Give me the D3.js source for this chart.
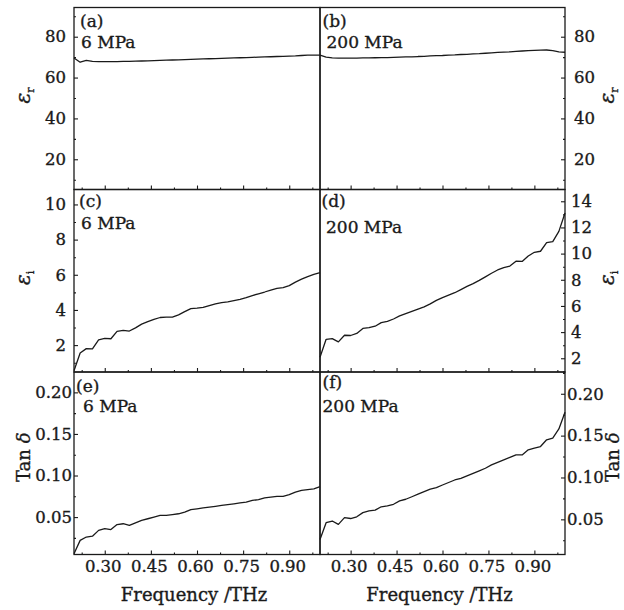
<!DOCTYPE html>
<html>
<head>
<meta charset="utf-8">
<script src="https://cdn.jsdelivr.net/npm/d3@7"></script>
<style>
  body { margin: 0; background: #fff; }
  text { font-family: "DejaVu Serif", serif; fill: #1a1a1a; stroke: #1a1a1a; stroke-width: 0.35px; }
</style>
</head>
<body>
<div id="chart"></div>
<script>
// frequency grid (THz)
const freq = [0.20,0.22,0.24,0.26,0.28,0.30,0.32,0.34,0.36,0.38,0.40,0.42,0.44,0.46,0.48,0.50,0.52,0.54,0.56,0.58,
  0.60,0.62,0.64,0.66,0.68,0.70,0.72,0.74,0.76,0.78,0.80,0.82,0.84,0.86,0.88,0.90,0.92,0.94,0.96,0.98,1.00]

// real permittivity
const epsR6 = [69.6,67.5,68.4,67.9,67.8,67.8,67.8,67.8,67.9,67.9,68.0,68.1,68.2,68.3,68.4,68.5,68.6,68.7,68.8,68.9,
  69.0,69.1,69.2,69.3,69.4,69.5,69.6,69.7,69.8,69.9,70.0,70.1,70.2,70.3,70.4,70.5,70.6,70.8,71.0,71.0,71.0]
const epsR200 = [71.0,70.0,69.6,69.5,69.5,69.5,69.5,69.6,69.6,69.7,69.8,69.8,69.9,70.0,70.1,70.1,70.3,70.4,70.6,70.7,
  70.8,71.0,71.1,71.3,71.4,71.6,71.7,71.9,72.1,72.3,72.5,72.6,72.8,73.0,73.2,73.3,73.4,73.5,73.2,72.6,72.4]

// imaginary permittivity
const epsI6 = [0.54,1.55,1.80,1.78,2.30,2.38,2.36,2.78,2.84,2.80,2.98,3.19,3.33,3.46,3.57,3.59,3.59,3.72,3.90,4.07,
  4.10,4.14,4.25,4.35,4.42,4.46,4.53,4.60,4.70,4.82,4.92,5.02,5.13,5.23,5.27,5.38,5.58,5.75,5.90,6.02,6.12]
const epsI200 = [2.08,3.45,3.50,3.25,3.76,3.74,3.90,4.28,4.34,4.45,4.72,4.82,5.00,5.24,5.42,5.59,5.76,5.93,6.16,6.42,
  6.64,6.82,7.01,7.25,7.49,7.70,7.95,8.22,8.50,8.75,8.93,9.05,9.42,9.40,9.82,10.10,10.18,10.84,10.92,11.70,13.10]

// loss tangent
const tan6 = [0.006,0.022,0.026,0.027,0.034,0.036,0.035,0.041,0.042,0.040,0.043,0.046,0.048,0.050,0.052,0.052,0.053,0.054,0.056,0.059,
  0.060,0.061,0.062,0.063,0.064,0.065,0.066,0.067,0.068,0.070,0.071,0.073,0.074,0.075,0.075,0.077,0.080,0.082,0.083,0.084,0.0865]
const tan200 = [0.026,0.046,0.048,0.044,0.052,0.051,0.053,0.058,0.060,0.061,0.065,0.066,0.068,0.072,0.074,0.077,0.080,0.083,0.086,0.088,
  0.091,0.094,0.097,0.099,0.102,0.105,0.108,0.111,0.115,0.118,0.121,0.124,0.127,0.127,0.133,0.135,0.137,0.145,0.147,0.158,0.178]

const xTicks = [0.30, 0.45, 0.60, 0.75, 0.90]
const xMinor = [0.225, 0.375, 0.525, 0.675, 0.825, 0.975]
const epsRTicks = [20, 40, 60, 80]
const epsRMinor = [10, 30, 50, 70, 90]
const epsI6Ticks = [2, 4, 6, 8, 10]
const epsI6Minor = [1, 3, 5, 7, 9]
const epsI200Ticks = [2, 4, 6, 8, 10, 12, 14]
const epsI200Minor = [1, 3, 5, 7, 9, 11, 13]
const tanTicks = [0.05, 0.10, 0.15, 0.20]
const tanMinor = [0.025, 0.075, 0.125, 0.175, 0.225]

const width = 624
const height = 610
const cols = [[74, 320], [320, 565]]
const rows = [[7.5, 189.5], [189.5, 372], [372, 554.5]]
const ink = "#1a1a1a"

const panels = [
  { col: 0, row: 0, values: epsR6, domain: [5.2, 94.3], ticks: epsRTicks, minor: epsRMinor, fmt: "d", pad: 8, tag: "(a)", note: "6 MPa", label: "r", tagPos: [6, 19], notePos: [7, 40] },
  { col: 1, row: 0, values: epsR200, domain: [5.2, 94.3], ticks: epsRTicks, minor: epsRMinor, fmt: "d", pad: 9, tag: "(b)", note: "200 MPa", label: "r", tagPos: [2.5, 19], notePos: [6.5, 40] },
  { col: 0, row: 1, values: epsI6, domain: [0.47, 10.85], ticks: epsI6Ticks, minor: epsI6Minor, fmt: "d", pad: 8, tag: "(c)", note: "6 MPa", label: "i", tagPos: [5, 17.5], notePos: [7, 39.5] },
  { col: 1, row: 1, values: epsI200, domain: [0.95, 14.9], ticks: epsI200Ticks, minor: epsI200Minor, fmt: "d", pad: 6, tag: "(d)", note: "200 MPa", label: "i", tagPos: [1.5, 17.5], notePos: [6, 43.5] },
  { col: 0, row: 2, values: tan6, domain: [0.005, 0.2245], ticks: tanTicks, minor: tanMinor, fmt: ".2f", pad: 2, tag: "(e)", note: "6 MPa", label: "tan", tagPos: [2, 20], notePos: [9, 40] },
  { col: 1, row: 2, values: tan200, domain: [0.008, 0.226], ticks: tanTicks, minor: tanMinor, fmt: ".2f", pad: 2, tag: "(f)", note: "200 MPa", label: "tan", tagPos: [2.5, 16], notePos: [2.5, 40] }
]

const svg = d3.select("#chart").append("svg").attr("width", width).attr("height", height)

panels.forEach((p) => {
  const [x0, x1] = cols[p.col]
  const [y0, y1] = rows[p.row]
  const x = d3.scaleLinear().domain([0.2, 1.0]).range([x0, x1])
  const y = d3.scaleLinear().domain(p.domain).range([y1, y0])
  const isRight = p.col === 1
  const isBottom = p.row === 2

  // x axis, ticks pointing inward
  const gx = svg.append("g").attr("transform", `translate(0,${y1})`)
    .call(d3.axisBottom(x).tickValues(xTicks).tickSize(-4).tickPadding(6)
      .tickFormat(isBottom ? d3.format(".2f") : () => ""))
  gx.selectAll(".tick text").attr("dx", -2)
  gx.append("g").call(d3.axisBottom(x).tickValues(xMinor).tickSize(-2).tickFormat(() => ""))

  // y axis (left for col 0, right for col 1)
  const yAxis = isRight ? d3.axisRight(y) : d3.axisLeft(y)
  const yMinorAxis = isRight ? d3.axisRight(y) : d3.axisLeft(y)
  const gy = svg.append("g").attr("transform", `translate(${isRight ? x1 : x0},0)`)
    .call(yAxis.tickValues(p.ticks).tickSize(-4).tickPadding(p.pad).tickFormat(d3.format(p.fmt)))
  gy.append("g").call(yMinorAxis.tickValues(p.minor.filter((v) => v > p.domain[0] && v < p.domain[1])).tickSize(-2).tickFormat(() => ""))

  svg.selectAll(".domain").remove()
  svg.selectAll(".tick line").attr("stroke", ink).attr("stroke-width", 1.1)
  svg.selectAll(".tick text").attr("font-size", 16.5).attr("fill", ink).attr("font-family", "DejaVu Serif, serif")

  // frame
  svg.append("rect").attr("x", x0).attr("y", y0).attr("width", x1 - x0).attr("height", y1 - y0)
    .attr("fill", "none").attr("stroke", ink).attr("stroke-width", 1.3)

  // curve
  svg.append("path")
    .datum(p.values)
    .attr("fill", "none")
    .attr("stroke", ink)
    .attr("stroke-width", 1.3)
    .attr("stroke-linejoin", "round")
    .attr("d", d3.line().x((_, i) => x(freq[i])).y((d) => y(d)))

  // panel tags
  svg.append("text").attr("x", x0 + p.tagPos[0]).attr("y", y0 + p.tagPos[1]).attr("font-size", 17).text(p.tag)
  svg.append("text").attr("x", x0 + p.notePos[0]).attr("y", y0 + p.notePos[1]).attr("font-size", 17).text(p.note)

  // y label, rotated
  const lx = isRight ? (p.label === "tan" ? 619 : 614) : 30
  const ly = (y0 + y1) / 2 + (p.label === "tan" ? -6 : -3)
  const t = svg.append("text")
    .attr("transform", `translate(${lx},${ly}) rotate(-90)`)
    .attr("text-anchor", "middle")
    .attr("font-size", p.label === "tan" ? 18 : 20)
  if (p.label === "tan") {
    t.append("tspan").text("Tan ")
    t.append("tspan").attr("font-style", "italic").text("δ")
  } else {
    t.append("tspan").attr("font-style", "italic").text("ε")
    t.append("tspan").attr("font-size", 11).attr("dy", 4).text(p.label)
  }

  if (isBottom) {
    svg.append("text")
      .attr("x", (x0 + x1) / 2 - 3)
      .attr("y", 601)
      .attr("text-anchor", "middle")
      .attr("font-size", 18)
      .text("Frequency /THz")
  }
})
</script>
</body>
</html>
